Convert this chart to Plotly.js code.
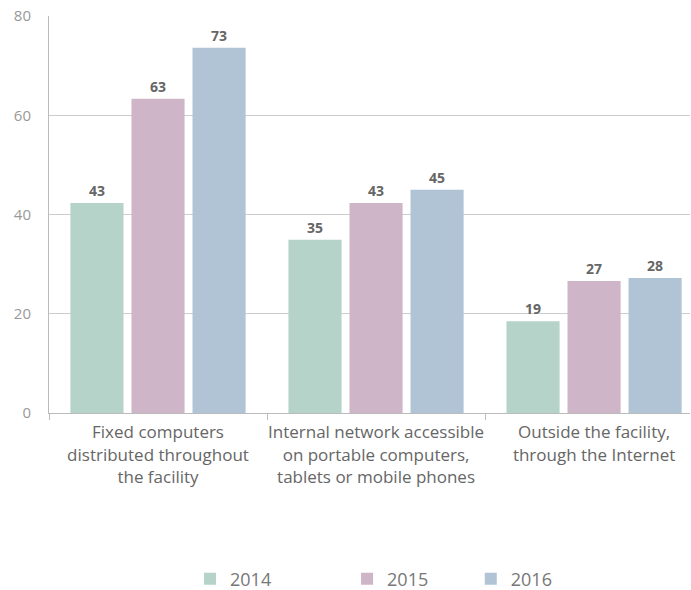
<!DOCTYPE html>
<html><head><meta charset="utf-8">
<script src="https://cdn.plot.ly/plotly-3.0.1.min.js"></script>
<style>html,body{margin:0;padding:0;background:#fff}#c{width:691px;height:590px}</style>
</head><body><div id="c"></div>
<script>
const categories = [
  "Fixed computers<br>distributed throughout<br>the facility",
  "Internal network accessible<br>on portable computers,<br>tablets or mobile phones",
  "Outside the facility,<br>through the Internet"
];
const years = ["2014", "2015", "2016"];
const values2014 = [42.3, 34.9, 18.5];
const values2015 = [63.3, 42.3, 26.6];
const values2016 = [73.6, 45.0, 27.2];
const labels2014 = ["43", "35", "19"];
const labels2015 = ["63", "43", "27"];
const labels2016 = ["73", "45", "28"];
const colors = ["#b5d3c8", "#cfb5c8", "#b1c4d6"];

const series = [values2014, values2015, values2016];
const labels = [labels2014, labels2015, labels2016];
const legendIds = ["legend", "legend2", "legend3"];
const traces = series.map((v, i) => ({
  type: "bar",
  name: years[i],
  legend: legendIds[i],
  x: categories,
  y: v,
  text: labels[i],
  textposition: "outside",
  texttemplate: "%{text}",
  textfont: {family: "Open Sans, sans-serif", size: 14, color: "#666", weight: "bold"},
  cliponaxis: false,
  marker: {color: colors[i]},
  hoverinfo: "skip"
}));

const legendX = [0.220, 0.465, 0.658];
const mkLegend = (x) => ({
  orientation: "h", x: x, xanchor: "left", y: -0.418, yanchor: "middle",
  font: {size: 18, color: "#777"},
  itemclick: false, bgcolor: "rgba(0,0,0,0)"
});

const layout = {
  width: 691, height: 590,
  margin: {l: 49, r: 1, t: 16, b: 177, autoexpand: false},
  paper_bgcolor: "#fff", plot_bgcolor: "#fff",
  barmode: "group",
  bargap: 0.16,
  bargroupgap: 0.13,
  font: {family: "Open Sans, sans-serif", color: "#666"},
  xaxis: {
    range: [-0.5, 2.44],
    showline: true, linecolor: "#bbb", linewidth: 1,
    ticks: "outside", tickson: "boundaries", ticklen: 6, tickcolor: "#bbb",
    tickfont: {size: 17, color: "#666"},
    tickangle: 0,
    ticklabelstandoff: 4,
    showgrid: false, fixedrange: true
  },
  yaxis: {
    range: [0, 80], dtick: 20,
    showline: true, linecolor: "#bbb", linewidth: 1,
    gridcolor: "#ccc", gridwidth: 1,
    zeroline: false,
    ticks: "", ticklabelstandoff: 14,
    tickfont: {size: 15, color: "#999"},
    fixedrange: true
  },
  showlegend: true,
  legend: mkLegend(legendX[0]),
  legend2: mkLegend(legendX[1]),
  legend3: mkLegend(legendX[2])
};
Plotly.newPlot("c", traces, layout, {displayModeBar: false, staticPlot: true});
</script></body></html>
